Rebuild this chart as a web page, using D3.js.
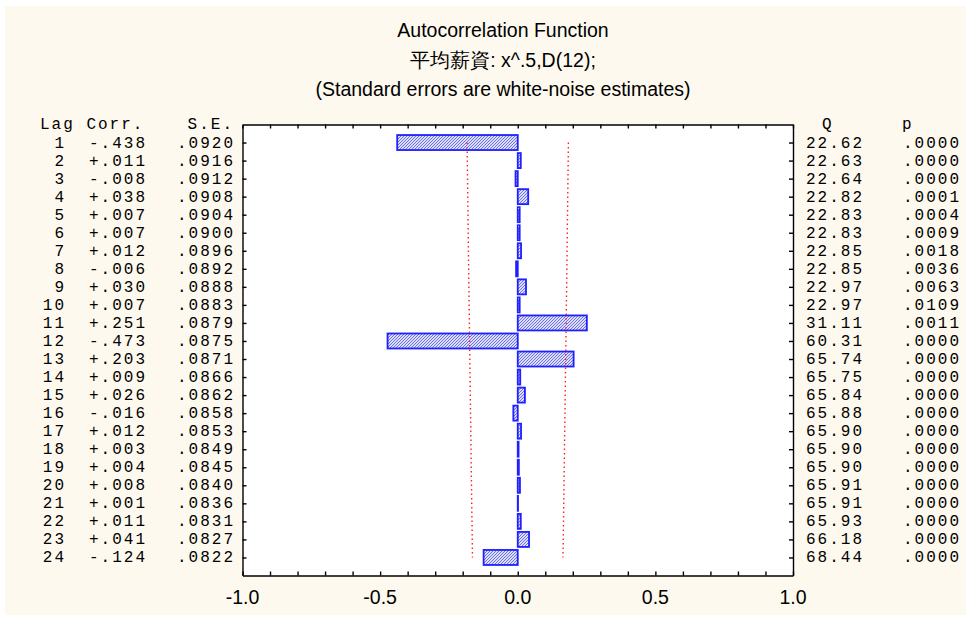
<!DOCTYPE html>
<html>
<head>
<meta charset="utf-8">
<script src="https://cdn.jsdelivr.net/npm/d3@7"></script>
<style>
  html, body { margin: 0; padding: 0; background: #ffffff; }
  .mono { font-family: "Courier New", Courier, "Liberation Mono", monospace; font-size: 16px; letter-spacing: 2px; fill: #000; }
  .sans { font-family: Arial, "Liberation Sans", sans-serif; fill: #000; }
</style>
</head>
<body>
<div id="chart"></div>
<script>
const titleLines = ['Autocorrelation Function', '平均薪資: x^.5,D(12);', '(Standard errors are white-noise estimates)']

const lags = [1, 2, 3, 4, 5, 6, 7, 8, 9, 10, 11, 12, 13, 14, 15, 16, 17, 18, 19, 20, 21, 22, 23, 24]
const corr = [-.438, .011, -.008, .038, .007, .007, .012, -.006, .030, .007, .251, -.473,
              .203, .009, .026, -.016, .012, .003, .004, .008, .001, .011, .041, -.124]
const stdErr = [.0920, .0916, .0912, .0908, .0904, .0900, .0896, .0892, .0888, .0883, .0879, .0875,
                .0871, .0866, .0862, .0858, .0853, .0849, .0845, .0840, .0836, .0831, .0827, .0822]
const qStat = [22.62, 22.63, 22.64, 22.82, 22.83, 22.83, 22.85, 22.85, 22.97, 22.97, 31.11, 60.31,
               65.74, 65.75, 65.84, 65.88, 65.90, 65.90, 65.90, 65.91, 65.91, 65.93, 66.18, 68.44]
const pValue = [.0000, .0000, .0000, .0001, .0004, .0009, .0018, .0036, .0063, .0109, .0011, .0000,
                .0000, .0000, .0000, .0000, .0000, .0000, .0000, .0000, .0000, .0000, .0000, .0000]
const xTickLabels = [-1.0, -0.5, 0.0, 0.5, 1.0]

const data = lags.map((lag, i) => ({lag, r: corr[i], se: stdErr[i], q: qStat[i], p: pValue[i]}))

const width = 968, height = 619
const svg = d3.select('#chart').append('svg')
    .attr('width', width)
    .attr('height', height)

svg.append('rect')
    .attr('x', 5).attr('y', 6)
    .attr('width', 961).attr('height', 609)
    .attr('fill', '#fdf9ee')

// hatch used for the bars
const pat = svg.append('defs').append('pattern')
    .attr('id', 'hatch')
    .attr('patternUnits', 'userSpaceOnUse')
    .attr('width', 3).attr('height', 3)
pat.append('rect').attr('width', 3).attr('height', 3).attr('fill', '#dcdff9')
pat.append('path')
    .attr('d', 'M0,3 L3,0 M-1,1 L1,-1 M2,4 L4,2')
    .attr('stroke', '#6a6fec').attr('stroke-width', 1)

const x = d3.scaleLinear().domain([-1, 1]).range([242.5, 793])
const y = d3.scaleLinear().domain([0, 25]).range([124.5, 575.5])

// titles
svg.selectAll('.title').data(titleLines).enter().append('text')
    .attr('class', 'title sans')
    .attr('x', 503)
    .attr('y', (d, i) => 37 + i * 29.5)
    .attr('text-anchor', 'middle')
    .style('font-size', '19.5px')
    .text(d => d)

// plot frame
svg.append('rect')
    .attr('x', x.range()[0]).attr('y', y.range()[0])
    .attr('width', x.range()[1] - x.range()[0])
    .attr('height', y.range()[1] - y.range()[0])
    .attr('fill', '#ffffff')

// bars
svg.selectAll('.bar').data(data).enter().append('rect')
    .attr('class', 'bar')
    .attr('x', d => x(Math.min(0, d.r)))
    .attr('y', d => y(d.lag) - 7.5)
    .attr('width', d => Math.abs(x(d.r) - x(0)))
    .attr('height', 15)
    .attr('fill', 'url(#hatch)')
    .attr('stroke', '#1f1fff')
    .attr('stroke-width', 1.8)

// +-2 standard error limits
const limit = sign => d3.line().x(d => x(sign * 2 * d.se)).y(d => y(d.lag))
;[-1, 1].forEach(s => {
    svg.append('path')
        .attr('d', limit(s)(data))
        .attr('fill', 'none')
        .attr('stroke', '#ff2020')
        .attr('stroke-width', 1.4)
        .attr('stroke-dasharray', '1.5,3')
})

// axes
const tickVals = d3.range(-10, 11).map(v => v / 10)
const bottomAxis = d3.axisBottom(x).tickValues(tickVals).tickSize(-4).tickSizeOuter(0).tickFormat('')
const topAxis = d3.axisTop(x).tickValues(tickVals).tickSize(-4).tickSizeOuter(0).tickFormat('')
const leftAxis = d3.axisLeft(y).tickValues(lags).tickSize(-4).tickSizeOuter(0).tickFormat('')
const rightAxis = d3.axisRight(y).tickValues(lags).tickSize(-4).tickSizeOuter(0).tickFormat('')

const drawAxis = (axis, tx, ty) => svg.append('g')
    .attr('transform', `translate(${tx},${ty})`)
    .call(axis)
    .call(g => g.selectAll('path, line').attr('stroke', '#000').attr('stroke-width', 1.4))

drawAxis(bottomAxis, 0, y.range()[1])
drawAxis(topAxis, 0, y.range()[0])
drawAxis(leftAxis, x.range()[0], 0)
drawAxis(rightAxis, x.range()[1], 0)

// plain hyphen for the minus sign, as in the printout
const locale = d3.formatLocale({decimal: '.', thousands: ',', grouping: [3], currency: ['', ''], minus: '-'})

svg.selectAll('.xlabel').data(xTickLabels).enter().append('text')
    .attr('class', 'xlabel sans')
    .attr('x', d => x(d))
    .attr('y', 604)
    .attr('text-anchor', 'middle')
    .style('font-size', '19.5px')
    .text(d => locale.format('.1f')(d))

// tables on both sides
const noLead = s => s.replace(/^([+-]?)0\./, '$1.')
const fmtCorr = d => noLead(locale.format('+.3f')(d))
const fmtSe = d => noLead(locale.format('.4f')(d))
const fmtP = d => noLead(locale.format('.4f')(d))

const headers = [
    {text: 'Lag Corr.', x: 40, anchor: 'start'},
    {text: 'S.E.', x: 234, anchor: 'end'},
    {text: 'Q', x: 822, anchor: 'start'},
    {text: 'p', x: 902, anchor: 'start'},
]
svg.selectAll('.head').data(headers).enter().append('text')
    .attr('class', 'head mono')
    .attr('x', d => d.x)
    .attr('y', 129)
    .attr('text-anchor', d => d.anchor)
    .text(d => d.text)

const columns = [
    {x: 66, f: d => d.lag},
    {x: 147, f: d => fmtCorr(d.r)},
    {x: 235, f: d => fmtSe(d.se)},
    {x: 864, f: d => locale.format('.2f')(d.q)},
    {x: 961, f: d => fmtP(d.p)},
]
columns.forEach(col => {
    svg.append('g').selectAll('text').data(data).enter().append('text')
        .attr('class', 'mono')
        .attr('x', col.x)
        .attr('y', d => y(d.lag) + 5)
        .attr('text-anchor', 'end')
        .text(col.f)
})
</script>
</body>
</html>
